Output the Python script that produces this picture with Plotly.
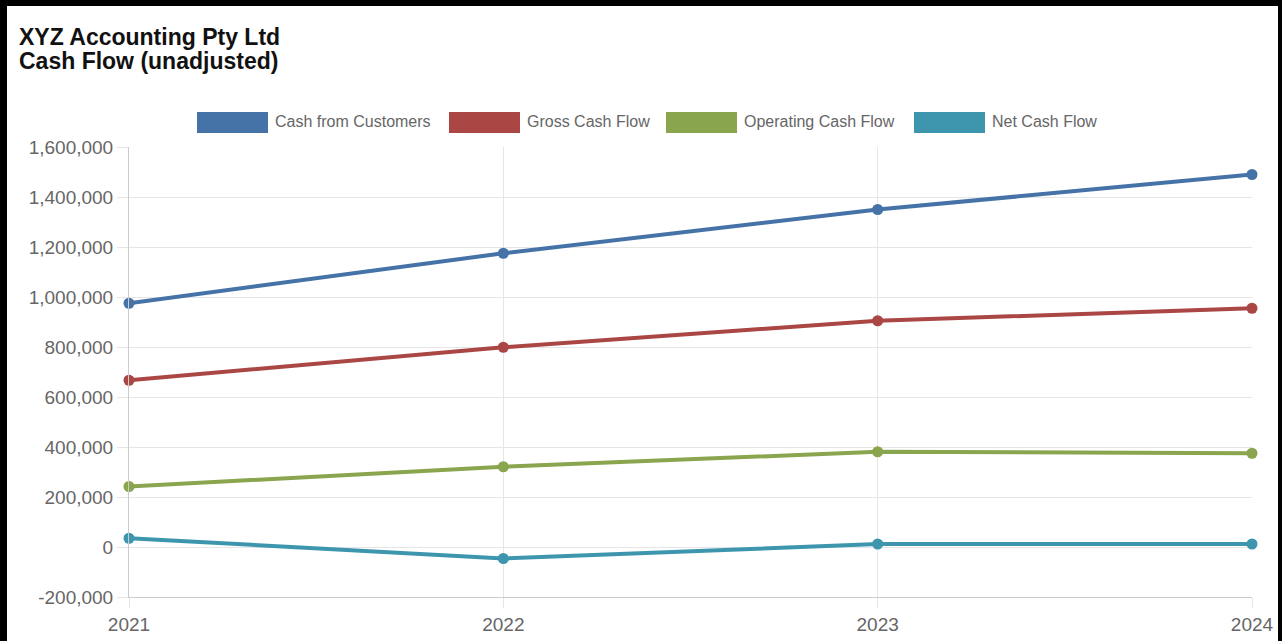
import plotly.graph_objects as go

# ---- data -------------------------------------------------------------
years = [2021, 2022, 2023, 2024]
year_labels = ["2021", "2022", "2023", "2024"]

cash_from_customers = [975000, 1175000, 1350000, 1490000]
gross_cash_flow = [667000, 799000, 905000, 955000]
operating_cash_flow = [242000, 321000, 381000, 375000]
net_cash_flow = [35000, -46000, 12000, 12000]

series_names = ["Cash from Customers", "Gross Cash Flow", "Operating Cash Flow", "Net Cash Flow"]
series_colors = ["#4572A7", "#AA4643", "#89A54E", "#3D96AE"]

y_ticks = [-200000, 0, 200000, 400000, 600000, 800000, 1000000, 1200000, 1400000, 1600000]
y_tick_labels = ["-200,000", "0", "200,000", "400,000", "600,000", "800,000",
                 "1,000,000", "1,200,000", "1,400,000", "1,600,000"]

title_lines = ["XYZ Accounting Pty Ltd", "Cash Flow (unadjusted)"]

# ---- canvas geometry (pixels) ----------------------------------------
W, H = 1282, 641
ML, MR, MT, MB = 129, 30, 147, 44
PW, PH = W - ML - MR, H - MT - MB


def px(x):
    return (x - ML) / PW


def py(y):
    return (H - MB - y) / PH


FONT = "Liberation Sans, Arial, Helvetica, sans-serif"
GRID = "#e6e6e6"
TEXT_GREY = "#666666"

fig = go.Figure()

all_series = [cash_from_customers, gross_cash_flow, operating_cash_flow, net_cash_flow]
for name, color, values in zip(series_names, series_colors, all_series):
    fig.add_trace(go.Scatter(
        x=years, y=values, name=name, mode="lines+markers",
        line=dict(color=color, width=4),
        marker=dict(color=color, size=11, line=dict(width=0)),
        cliponaxis=False, showlegend=False,
    ))

shapes = []
annotations = []

# legend: colour boxes with labels, centred above the plot
legend_x = [197, 449, 666, 914]
box_w, box_top, box_bot = 71, 112, 133
for x0, name, color in zip(legend_x, series_names, series_colors):
    shapes.append(dict(type="rect", xref="paper", yref="paper",
                       x0=px(x0), x1=px(x0 + box_w), y0=py(box_bot), y1=py(box_top),
                       fillcolor=color, line=dict(width=0), layer="above"))
    annotations.append(dict(text=name, xref="paper", yref="paper",
                            x=px(x0 + box_w + 5), y=py(121.5), xanchor="left", yanchor="middle",
                            showarrow=False, font=dict(family=FONT, size=16, color=TEXT_GREY)))

# two-line chart heading
for line, yc in zip(title_lines, [37, 61]):
    annotations.append(dict(text="<b>%s</b>" % line, xref="paper", yref="paper",
                            x=px(17), y=py(yc), xanchor="left", yanchor="middle",
                            showarrow=False, font=dict(family=FONT, size=23, color="#111111")))

# black frame (left, top, right)
for x0, x1, y0, y1 in [(0, 7, 0, H), (0, W, 0, 6), (1278, W, 0, H)]:
    shapes.append(dict(type="rect", xref="paper", yref="paper",
                       x0=px(x0), x1=px(x1), y0=py(y1), y1=py(y0),
                       fillcolor="#000000", line=dict(width=0), layer="above"))

fig.update_layout(
    template="none",
    width=W, height=H, autosize=False,
    margin=dict(l=ML, r=MR, t=MT, b=MB, pad=0),
    paper_bgcolor="white", plot_bgcolor="white",
    font=dict(family=FONT, color=TEXT_GREY),
    shapes=shapes, annotations=annotations,
    showlegend=False,
    xaxis=dict(
        range=[years[0], years[-1]], tickvals=years, ticktext=year_labels,
        showgrid=True, gridcolor=GRID, gridwidth=1,
        ticks="outside", ticklen=10, tickcolor=GRID,
        showline=True, linecolor="#cccccc", linewidth=1,
        zeroline=False, automargin=False,
        tickfont=dict(size=19, color=TEXT_GREY, family=FONT),
        fixedrange=True,
    ),
    yaxis=dict(
        range=[y_ticks[0], y_ticks[-1]], tickvals=y_ticks, ticktext=y_tick_labels,
        showgrid=True, gridcolor=GRID, gridwidth=1,
        ticks="outside", ticklen=11, tickcolor=GRID,
        showline=True, linecolor="#cccccc", linewidth=1,
        zeroline=False, automargin=False,
        tickfont=dict(size=19, color=TEXT_GREY, family=FONT),
        fixedrange=True,
    ),
)

fig.write_html("out.html")
